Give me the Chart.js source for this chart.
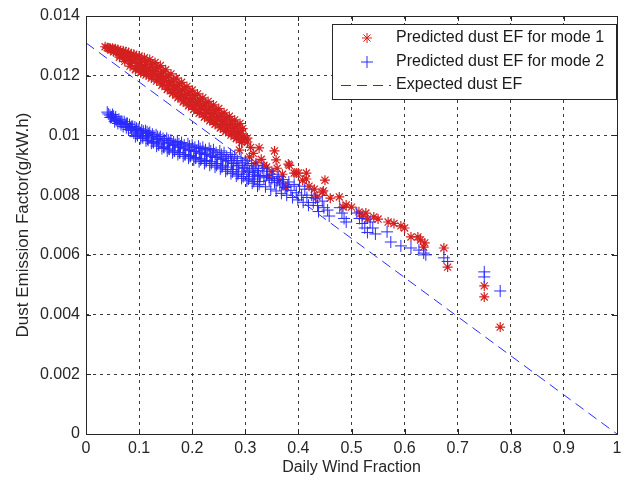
<!DOCTYPE html>
<html>
<head>
<meta charset="utf-8">
<script src="https://cdn.jsdelivr.net/npm/chart.js@4.4.1/dist/chart.umd.min.js"></script>
<style>
  html, body { margin: 0; padding: 0; background: #fff; }
  #wrap { width: 624px; height: 482px; }
</style>
</head>
<body>
<div id="wrap"><canvas id="myChart" width="624" height="482"></canvas></div>
<script>
// predicted dust EF, mode 1 (red stars) - [wind fraction, EF]
const mode1 = [
  [0.036,0.01297],[0.040,0.01294],[0.043,0.01292],[0.046,0.01290],
  [0.050,0.01292],[0.053,0.01288],[0.052,0.01280],[0.056,0.01284],
  [0.060,0.01288],[0.062,0.01280],[0.064,0.01268],[0.066,0.01276],
  [0.070,0.01284],[0.072,0.01272],[0.073,0.01256],[0.076,0.01264],
  [0.080,0.01278],[0.082,0.01264],[0.084,0.01240],[0.086,0.01252],
  [0.090,0.01272],[0.092,0.01254],[0.094,0.01224],[0.096,0.01240],
  [0.100,0.01266],[0.102,0.01246],[0.104,0.01214],[0.106,0.01232],
  [0.110,0.01260],[0.112,0.01238],[0.114,0.01206],[0.116,0.01222],
  [0.120,0.01254],[0.122,0.01230],[0.124,0.01198],[0.126,0.01214],
  [0.130,0.01244],[0.132,0.01220],[0.134,0.01188],[0.136,0.01202],
  [0.140,0.01234],[0.142,0.01208],[0.144,0.01172],[0.146,0.01190],
  [0.150,0.01220],[0.152,0.01194],[0.154,0.01158],[0.156,0.01176],
  [0.160,0.01206],[0.162,0.01180],[0.164,0.01144],[0.166,0.01162],
  [0.170,0.01192],[0.172,0.01166],[0.174,0.01130],[0.176,0.01148],
  [0.180,0.01178],[0.182,0.01152],[0.184,0.01116],[0.186,0.01134],
  [0.190,0.01164],[0.192,0.01138],[0.194,0.01102],[0.196,0.01120],
  [0.200,0.01152],[0.202,0.01126],[0.204,0.01090],[0.206,0.01108],
  [0.210,0.01139],[0.212,0.01113],[0.214,0.01077],[0.216,0.01095],
  [0.220,0.01126],[0.222,0.01100],[0.224,0.01064],[0.226,0.01082],
  [0.230,0.01114],[0.232,0.01088],[0.234,0.01052],[0.236,0.01070],
  [0.240,0.01102],[0.242,0.01076],[0.244,0.01040],[0.246,0.01058],
  [0.250,0.01090],[0.252,0.01064],[0.254,0.01028],[0.256,0.01046],
  [0.260,0.01076],[0.262,0.01052],[0.264,0.01018],[0.266,0.01034],
  [0.270,0.01064],[0.272,0.01040],[0.274,0.01006],[0.276,0.01022],
  [0.280,0.01052],[0.282,0.01028],[0.284,0.00994],[0.286,0.01010],
  [0.290,0.01040],[0.292,0.01016],[0.294,0.00982],[0.296,0.00998],
  [0.045,0.01292],[0.047,0.01286],[0.055,0.01290],[0.057,0.01278],
  [0.065,0.01284],[0.067,0.01270],[0.063,0.01262],
  [0.075,0.01280],[0.077,0.01260],[0.073,0.01248],
  [0.085,0.01272],[0.087,0.01250],[0.083,0.01232],
  [0.095,0.01264],[0.097,0.01234],[0.093,0.01220],
  [0.105,0.01256],[0.107,0.01226],[0.103,0.01210],
  [0.115,0.01248],[0.117,0.01218],[0.113,0.01202],
  [0.125,0.01239],[0.127,0.01209],[0.123,0.01192],
  [0.135,0.01228],[0.137,0.01198],[0.133,0.01182],
  [0.145,0.01214],[0.147,0.01184],[0.143,0.01168],
  [0.155,0.01200],[0.157,0.01170],[0.153,0.01154],
  [0.165,0.01186],[0.167,0.01156],[0.163,0.01140],
  [0.175,0.01172],[0.177,0.01142],[0.173,0.01126],
  [0.185,0.01158],[0.187,0.01128],[0.183,0.01112],
  [0.195,0.01145],[0.197,0.01115],[0.193,0.01099],
  [0.205,0.01133],[0.207,0.01103],[0.203,0.01087],
  [0.215,0.01120],[0.217,0.01090],[0.213,0.01074],
  [0.225,0.01107],[0.227,0.01077],[0.223,0.01061],
  [0.235,0.01095],[0.237,0.01065],[0.233,0.01049],
  [0.245,0.01083],[0.247,0.01053],[0.243,0.01037],
  [0.255,0.01071],[0.257,0.01041],[0.253,0.01025],
  [0.265,0.01059],[0.267,0.01029],[0.263,0.01013],
  [0.275,0.01047],[0.277,0.01017],[0.273,0.01001],
  [0.285,0.01035],[0.287,0.01005],[0.283,0.00989],
  [0.295,0.01023],[0.297,0.00993],[0.293,0.00977],
  [0.289,0.00951],[0.304,0.00991],[0.304,0.00978],[0.308,0.00928],
  [0.310,0.00960],[0.315,0.00940],[0.320,0.00908],[0.326,0.00958],
  [0.330,0.00920],[0.335,0.00900],[0.340,0.00894],[0.345,0.00860],
  [0.350,0.00880],[0.355,0.00948],[0.358,0.00918],[0.360,0.00890],
  [0.364,0.00850],[0.370,0.00870],[0.377,0.00827],[0.381,0.00904],
  [0.383,0.00900],[0.392,0.00874],[0.396,0.00874],[0.400,0.00874],
  [0.408,0.00850],[0.415,0.00874],[0.415,0.00854],[0.420,0.00830],
  [0.430,0.00820],[0.435,0.00794],[0.445,0.00810],[0.447,0.00814],
  [0.450,0.00850],[0.460,0.00790],[0.477,0.00794],[0.484,0.00760],
  [0.490,0.00767],[0.500,0.00760],[0.514,0.00744],[0.520,0.00730],
  [0.527,0.00740],[0.530,0.00720],[0.542,0.00727],[0.550,0.00720],
  [0.569,0.00710],[0.580,0.00705],[0.593,0.00697],[0.600,0.00690],
  [0.612,0.00660],[0.625,0.00660],[0.630,0.00650],[0.636,0.00626],
  [0.638,0.00640],[0.674,0.00623],[0.681,0.00559],[0.750,0.00496],
  [0.750,0.00459],[0.780,0.00358]
];

// predicted dust EF, mode 2 (blue crosses)
const mode2 = [
  [0.040,0.01078],[0.042,0.01072],[0.045,0.01068],[0.048,0.01062],
  [0.052,0.01064],[0.055,0.01056],[0.058,0.01050],[0.054,0.01046],
  [0.062,0.01054],[0.064,0.01044],[0.066,0.01036],[0.068,0.01046],
  [0.072,0.01046],[0.074,0.01036],[0.076,0.01026],[0.078,0.01040],
  [0.082,0.01036],[0.084,0.01026],[0.086,0.01016],[0.088,0.01030],
  [0.092,0.01028],[0.094,0.01016],[0.096,0.01004],[0.098,0.01020],
  [0.100,0.01022],[0.103,0.01008],[0.106,0.00996],[0.108,0.01014],
  [0.112,0.01016],[0.114,0.01000],[0.116,0.00988],[0.118,0.01006],
  [0.120,0.01010],[0.123,0.00994],[0.126,0.00980],[0.128,0.00998],
  [0.132,0.01002],[0.134,0.00986],[0.136,0.00972],[0.138,0.00990],
  [0.140,0.00996],[0.143,0.00978],[0.146,0.00962],[0.148,0.00984],
  [0.152,0.00990],[0.154,0.00972],[0.156,0.00955],[0.158,0.00976],
  [0.160,0.00984],[0.163,0.00966],[0.166,0.00948],[0.168,0.00970],
  [0.172,0.00980],[0.174,0.00960],[0.176,0.00942],[0.178,0.00964],
  [0.180,0.00976],[0.183,0.00955],[0.186,0.00936],[0.188,0.00958],
  [0.192,0.00972],[0.194,0.00950],[0.196,0.00930],[0.198,0.00952],
  [0.200,0.00968],[0.203,0.00946],[0.206,0.00924],[0.208,0.00948],
  [0.212,0.00964],[0.214,0.00940],[0.216,0.00918],[0.218,0.00942],
  [0.220,0.00960],[0.223,0.00936],[0.226,0.00912],[0.228,0.00938],
  [0.232,0.00956],[0.234,0.00930],[0.236,0.00906],[0.238,0.00932],
  [0.240,0.00952],[0.243,0.00926],[0.246,0.00900],[0.248,0.00928],
  [0.252,0.00948],[0.254,0.00920],[0.256,0.00894],[0.258,0.00922],
  [0.260,0.00942],[0.263,0.00914],[0.266,0.00886],[0.268,0.00916],
  [0.272,0.00936],[0.274,0.00908],[0.276,0.00878],[0.278,0.00906],
  [0.280,0.00930],[0.283,0.00900],[0.286,0.00870],[0.288,0.00898],
  [0.292,0.00924],[0.294,0.00892],[0.296,0.00862],[0.298,0.00890],
  [0.300,0.00915],[0.303,0.00884],[0.306,0.00854],[0.308,0.00880],
  [0.312,0.00906],[0.314,0.00876],[0.316,0.00846],[0.318,0.00870],
  [0.320,0.00898],[0.323,0.00866],[0.326,0.00836],[0.328,0.00862],
  [0.046,0.01060],[0.050,0.01070],[0.056,0.01062],[0.060,0.01040],
  [0.066,0.01048],[0.070,0.01030],[0.076,0.01040],[0.080,0.01020],
  [0.086,0.01030],[0.090,0.01008],
  [0.095,0.01024],[0.097,0.01000],[0.093,0.00996],
  [0.105,0.01018],[0.107,0.00992],[0.103,0.00990],
  [0.115,0.01012],[0.117,0.00984],[0.113,0.00982],
  [0.125,0.01004],[0.127,0.00976],[0.123,0.00974],
  [0.135,0.00996],[0.137,0.00968],[0.133,0.00964],
  [0.145,0.00990],[0.147,0.00960],[0.143,0.00956],
  [0.155,0.00984],[0.157,0.00954],[0.153,0.00948],
  [0.165,0.00978],[0.167,0.00948],[0.163,0.00942],
  [0.175,0.00972],[0.177,0.00942],[0.173,0.00936],
  [0.185,0.00968],[0.187,0.00936],[0.183,0.00930],
  [0.195,0.00964],[0.197,0.00932],[0.193,0.00924],
  [0.205,0.00960],[0.207,0.00926],[0.203,0.00918],
  [0.215,0.00956],[0.217,0.00922],[0.213,0.00912],
  [0.225,0.00952],[0.227,0.00916],[0.223,0.00906],
  [0.235,0.00948],[0.237,0.00912],[0.233,0.00900],
  [0.245,0.00942],[0.247,0.00906],[0.243,0.00894],
  [0.255,0.00936],[0.257,0.00900],[0.253,0.00888],
  [0.265,0.00930],[0.267,0.00894],[0.263,0.00880],
  [0.275,0.00924],[0.277,0.00886],[0.273,0.00872],
  [0.285,0.00916],[0.287,0.00878],[0.283,0.00864],
  [0.295,0.00908],[0.297,0.00870],[0.293,0.00856],
  [0.305,0.00900],[0.307,0.00862],[0.303,0.00848],
  [0.315,0.00890],[0.317,0.00854],[0.313,0.00840],
  [0.325,0.00882],[0.327,0.00846],[0.323,0.00830],
  [0.332,0.00890],[0.335,0.00858],[0.338,0.00828],
  [0.340,0.00866],[0.342,0.00880],[0.345,0.00850],[0.348,0.00820],
  [0.350,0.00856],[0.352,0.00870],[0.355,0.00842],[0.358,0.00814],
  [0.360,0.00848],[0.362,0.00862],[0.365,0.00834],[0.368,0.00806],
  [0.370,0.00838],[0.372,0.00852],[0.375,0.00826],[0.378,0.00800],
  [0.380,0.00830],[0.382,0.00844],[0.386,0.00816],[0.389,0.00792],
  [0.392,0.00836],[0.396,0.00808],[0.399,0.00784],
  [0.402,0.00830],[0.406,0.00800],[0.409,0.00776],
  [0.412,0.00820],[0.416,0.00792],[0.419,0.00766],
  [0.425,0.00800],[0.428,0.00775],
  [0.432,0.00790],[0.436,0.00765],[0.438,0.00745],
  [0.445,0.00780],[0.448,0.00758],[0.455,0.00750],[0.458,0.00730],
  [0.478,0.00758],[0.482,0.00740],[0.486,0.00722],[0.490,0.00710],
  [0.510,0.00740],[0.515,0.00722],[0.520,0.00705],[0.525,0.00690],
  [0.530,0.00675],[0.535,0.00710],[0.540,0.00690],[0.545,0.00670],
  [0.567,0.00677],[0.574,0.00643],[0.593,0.00630],[0.612,0.00623],
  [0.627,0.00616],[0.636,0.00606],[0.640,0.00600],[0.674,0.00590],
  [0.681,0.00578],[0.750,0.00543],[0.750,0.00526],[0.780,0.00479]
];

// expected dust EF (straight dashed line)
const expectedX = [0, 1];
const expectedY = [0.0131, 0];

const seriesNames = ['Predicted dust EF for mode 1', 'Predicted dust EF for mode 2', 'Expected dust EF'];
const xTickLabels = ['0','0.1','0.2','0.3','0.4','0.5','0.6','0.7','0.8','0.9','1'];
const yTickLabels = ['0','0.002','0.004','0.006','0.008','0.01','0.012','0.014'];

const RED = '#d42020';
const BLUE = '#2a2aff';
const FONT = 'Arial, "Liberation Sans", Helvetica, sans-serif';

function drawStar(ctx, x, y, r) {
  const d = r * Math.SQRT1_2;
  ctx.beginPath();
  ctx.moveTo(x - r, y); ctx.lineTo(x + r, y);
  ctx.moveTo(x, y - r); ctx.lineTo(x, y + r);
  ctx.moveTo(x - d, y - d); ctx.lineTo(x + d, y + d);
  ctx.moveTo(x - d, y + d); ctx.lineTo(x + d, y - d);
  ctx.stroke();
}

// box, inward ticks and legend, MATLAB style
const boxPlugin = {
  id: 'boxPlugin',
  afterDraw(chart) {
    const ctx = chart.ctx;
    const a = chart.chartArea;
    const xs = chart.scales.x, ys = chart.scales.y;
    ctx.save();
    ctx.strokeStyle = '#262626';
    ctx.lineWidth = 1;
    ctx.setLineDash([]);
    ctx.strokeRect(Math.round(a.left) + 0.5, Math.round(a.top) + 0.5,
      Math.round(a.right - a.left), Math.round(a.bottom - a.top));
    ctx.beginPath();
    xs.ticks.forEach(t => {
      const px = Math.round(xs.getPixelForValue(t.value)) + 0.5;
      ctx.moveTo(px, a.bottom); ctx.lineTo(px, a.bottom - 5);
      ctx.moveTo(px, a.top); ctx.lineTo(px, a.top + 5);
    });
    ys.ticks.forEach(t => {
      const py = Math.round(ys.getPixelForValue(t.value)) + 0.5;
      ctx.moveTo(a.left, py); ctx.lineTo(a.left + 5, py);
      ctx.moveTo(a.right, py); ctx.lineTo(a.right - 5, py);
    });
    ctx.stroke();

    // legend
    const lx = 332, ly = 24, lw = 284, lh = 75;
    ctx.fillStyle = '#fff';
    ctx.fillRect(lx, ly, lw, lh);
    ctx.strokeStyle = '#262626';
    ctx.strokeRect(lx + 0.5, ly + 0.5, lw, lh);
    const rows = [38, 62, 85];
    ctx.font = '16px ' + FONT;
    ctx.fillStyle = '#1a1a1a';
    ctx.textBaseline = 'middle';
    ctx.textAlign = 'left';
    rows.forEach((ry, i) => ctx.fillText(seriesNames[i], 396, ry));
    ctx.strokeStyle = RED;
    drawStar(ctx, 367, rows[0], 5);
    ctx.strokeStyle = BLUE;
    ctx.beginPath();
    ctx.moveTo(361, rows[1]); ctx.lineTo(373, rows[1]);
    ctx.moveTo(367, rows[1] - 6); ctx.lineTo(367, rows[1] + 6);
    ctx.stroke();
    ctx.setLineDash([10, 6]);
    ctx.beginPath();
    ctx.moveTo(341, rows[2] + 0.5); ctx.lineTo(391, rows[2] + 0.5);
    ctx.stroke();
    ctx.restore();
  }
};

const ctx = document.getElementById('myChart');
const myChart = new Chart(ctx, {
  type: 'scatter',
  data: {
    datasets: [{
      label: seriesNames[0],
      data: mode1.map(p => ({x: p[0], y: p[1]})),
      pointStyle: 'star',
      pointRadius: 5,
      pointBorderWidth: 1.2,
      borderColor: RED,
      backgroundColor: RED,
      order: 3
    }, {
      label: seriesNames[1],
      data: mode2.map(p => ({x: p[0], y: p[1]})),
      pointStyle: 'cross',
      pointRadius: 6,
      pointBorderWidth: 1,
      borderColor: BLUE,
      backgroundColor: BLUE,
      order: 2
    }, {
      label: seriesNames[2],
      data: expectedX.map((x, i) => ({x: x, y: expectedY[i]})),
      showLine: true,
      pointRadius: 0,
      borderColor: BLUE,
      borderWidth: 1,
      borderDash: [10, 6],
      order: 1
    }]
  },
  options: {
    responsive: false,
    animation: false,
    devicePixelRatio: 1,
    layout: { padding: { left: 0, top: 16, right: 5, bottom: 0 } },
    plugins: {
      legend: { display: false },
      tooltip: { enabled: false }
    },
    scales: {
      x: {
        type: 'linear',
        min: 0,
        max: 1,
        afterFit: s => { s.height = 48; s.paddingLeft = 0; s.paddingRight = 0; },
        ticks: {
          stepSize: 0.1,
          padding: 5,
          color: '#262626',
          font: { family: FONT, size: 16 },
          maxRotation: 0,
          callback: (v, i) => xTickLabels[i]
        },
        grid: { color: '#3a3a3a', lineWidth: 1, drawTicks: false },
        border: { display: false, dash: [3, 4] },
        title: {
          display: true,
          text: 'Daily Wind Fraction',
          color: '#262626',
          font: { family: FONT, size: 16 },
          padding: { top: 0, bottom: 5 }
        }
      },
      y: {
        type: 'linear',
        min: 0,
        max: 0.014,
        afterFit: s => { s.width = 86; s.paddingTop = 0; s.paddingBottom = 0; },
        ticks: {
          stepSize: 0.002,
          padding: 6,
          color: '#262626',
          font: { family: FONT, size: 16 },
          callback: (v, i) => yTickLabels[i]
        },
        grid: { color: '#3a3a3a', lineWidth: 1, drawTicks: false },
        border: { display: false, dash: [3, 4] },
        title: {
          display: true,
          text: 'Dust Emission Factor(g/kW.h)',
          color: '#262626',
          font: { family: FONT, size: 17 },
          padding: { top: 13, bottom: 0 }
        }
      }
    }
  },
  plugins: [boxPlugin]
});
</script>
</body>
</html>
